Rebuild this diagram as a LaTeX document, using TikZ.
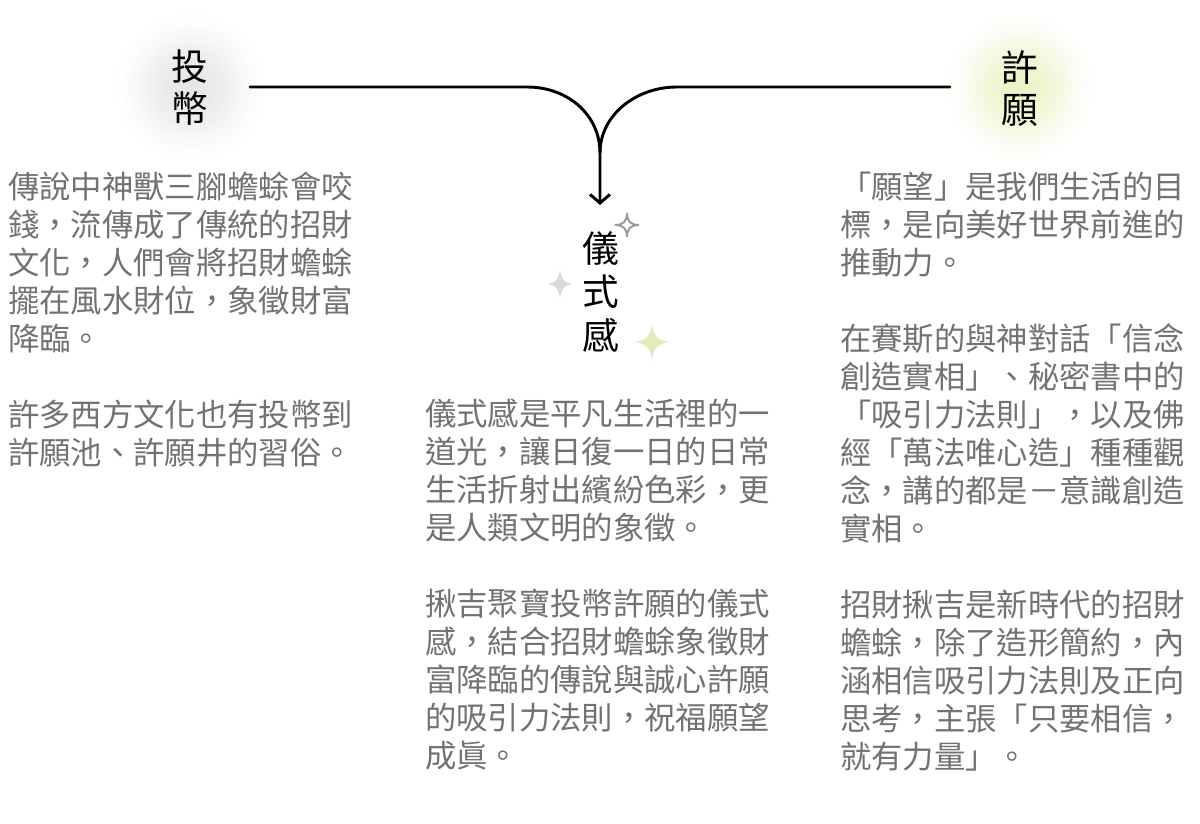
\documentclass[tikz,border=0pt]{standalone}
\usepackage{fontspec}
\setmainfont{Noto Sans CJK TC}
\usetikzlibrary{arrows.meta}
\definecolor{txt}{HTML}{727272}
\definecolor{glowg}{HTML}{E6E6E6}
\definecolor{glowy}{HTML}{EBF4C8}
\definecolor{stargray}{HTML}{D9D9D9}
\definecolor{stargreen}{HTML}{E2ECBA}
\definecolor{starline}{HTML}{9A9A9A}
\tikzset{
  body/.style={anchor=north west, inner sep=0pt, align=left, text=txt,
    font=\fontsize{23.5}{28.5}\selectfont},
  head/.style={inner sep=0pt, align=center, text=black,
    font=\fontsize{27.5}{31.5}\selectfont},
  conn/.style={line width=2.2pt, black, line cap=round, line join=round},
  sparkle/.pic={\path[pic actions] (0,-1) .. controls (0,-0.3) and (0.3,0) .. (1,0)
     .. controls (0.3,0) and (0,0.3) .. (0,1) .. controls (0,0.3) and (-0.3,0) .. (-1,0)
     .. controls (-0.3,0) and (0,-0.3) .. (0,-1) -- cycle;}
}
\newcommand{\glowdisc}[3]{% center x, center y, colour
  \foreach \i in {0,...,39}{%
    \pgfmathsetmacro{\rr}{80*(1-\i/40)}%
    \pgfmathsetmacro{\pp}{100*(1-(\rr/80)^2)^2}%
    \fill[#3!\pp!white] (#1,#2) circle[radius=\rr*0.75pt];
  }}
\begin{document}
\begin{tikzpicture}[x=0.75pt,y=-0.75pt]
\useasboundingbox (0,0) rectangle (1200,824);
\fill[white] (0,0) rectangle (1200,824);
% glows
\glowdisc{190}{87}{glowg}
\glowdisc{1020}{87}{glowy}
% headings
\node[head] (tou) at (190,88) {投\\幣};
\node[head] (xu) at (1020,89) {許\\願};
\node[head, font=\fontsize{27.5}{32.3}\selectfont] (yi) at (601,292) {儀\\式\\感};
% connector
\coordinate (ls) at (250,87);
\coordinate (rs) at (950,87);
\coordinate (m) at (600,153);
\coordinate (tip) at (600,205);
\draw[conn] (rs) -- (677,87) .. controls (636,87) and (600,115) .. (m);
\draw[conn, -{Straight Barb[length=6.5pt,width=15pt]}] (ls) -- (527,87) .. controls (568,87) and (600,115) .. (m) -- (tip);
% sparkles
\pic[draw=starline, line width=1.5pt, scale=12] at (627,225) {sparkle};
\pic[fill=stargray, xscale=15, yscale=17] at (560,284) {sparkle};
\pic[fill=stargreen, scale=21] at (652,342) {sparkle};
% texts
\node[body] (t1) at (8,171.5) {傳說中神獸三腳蟾蜍會咬\\錢，流傳成了傳統的招財\\文化，人們會將招財蟾蜍\\擺在風水財位，象徵財富\\降臨。\\[28.5pt]許多西方文化也有投幣到\\許願池、許願井的習俗。};
\node[body] (t2) at (425,398.5) {儀式感是平凡生活裡的一\\道光，讓日復一日的日常\\生活折射出繽紛色彩，更\\是人類文明的象徵。\\[28.5pt]揪吉聚寶投幣許願的儀式\\感，結合招財蟾蜍象徵財\\富降臨的傳說與誠心許願\\的吸引力法則，祝福願望\\成眞。};
\node[body] (t3) at (840,171.5) {「願望」是我們生活的目\\標，是向美好世界前進的\\推動力。\\[28.5pt]在賽斯的與神對話「信念\\創造實相」、秘密書中的\\「吸引力法則」，以及佛\\經「萬法唯心造」種種觀\\念，講的都是－意識創造\\實相。\\[28.5pt]招財揪吉是新時代的招財\\蟾蜍，除了造形簡約，內\\涵相信吸引力法則及正向\\思考，主張「只要相信，\\就有力量」。};
\end{tikzpicture}
\end{document}
